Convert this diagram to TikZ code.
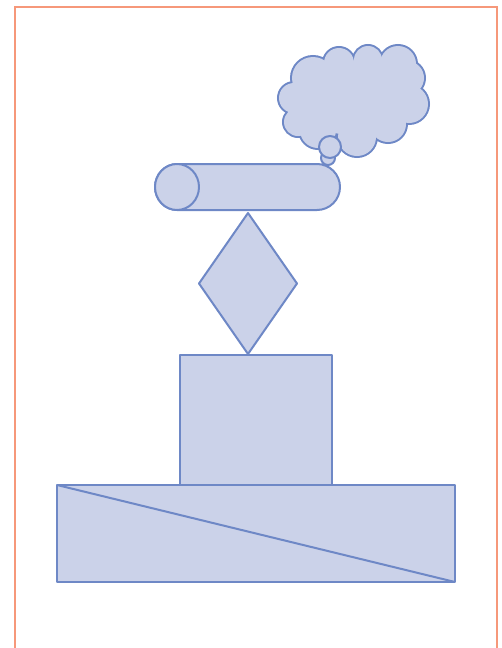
\documentclass[tikz,border=0pt]{standalone}
\usepackage{tikz}
\definecolor{edgeblue}{RGB}{110,136,198}
\definecolor{fillblue}{RGB}{203,210,233}
\definecolor{frameorange}{RGB}{246,152,122}
\tikzset{
  shapestyle/.style={draw=edgeblue, fill=fillblue, line width=2pt, line join=round},
  framestyle/.style={draw=frameorange, line width=2pt},
}
\begin{document}
\begin{tikzpicture}[x=1pt,y=-1pt]
\useasboundingbox (0,0) rectangle (501,648);
% frame
\draw[framestyle] (15,7) rectangle (496.5,670);
% bottom rectangle with diagonal
\draw[shapestyle] (57,485) rectangle (455,582);
\draw[draw=edgeblue, line width=2pt] (57,485) -- (455,582);
% middle rectangle
\draw[shapestyle] (180,355) rectangle (332,485);
% diamond
\draw[shapestyle] (248,213) -- (297,283.5) -- (248,354) -- (199,283.5) -- cycle;
% horizontal cylinder
\draw[shapestyle] (177,164) -- (317,164) arc[start angle=-90, end angle=90, x radius=23, y radius=23] -- (177,210) arc[start angle=90, end angle=270, x radius=22, y radius=23] -- cycle;
\draw[shapestyle] (177,187) ellipse[x radius=22, y radius=23];
% cloud: outline of circle union
\foreach \cx/\cy/\r in {313/78/21, 339/63/15, 368/60/14, 398/64/18, 407/78/17, 409/104/19, 388/124/18, 357/137/19, 318/130/18, 298/122/14, 294/98/15}{
  \draw[draw=edgeblue, line width=4pt] (\cx,\cy) circle[radius=\r];
}
\foreach \cx/\cy/\r in {313/78/21, 339/63/15, 368/60/14, 398/64/18, 407/78/17, 409/104/19, 388/124/18, 357/137/19, 318/130/18, 298/122/14, 294/98/15}{
  \fill[fillblue] (\cx,\cy) circle[radius=\r];
}
\fill[fillblue] (313,78) -- (339,63) -- (368,60) -- (398,64) -- (407,78) -- (409,104) -- (388,124) -- (357,137) -- (318,130) -- (298,122) -- (294,98) -- cycle;
% thought bubbles
\draw[shapestyle] (328,158) circle[radius=7];
\draw[shapestyle] (330,147) circle[radius=11];
\end{tikzpicture}
\end{document}
